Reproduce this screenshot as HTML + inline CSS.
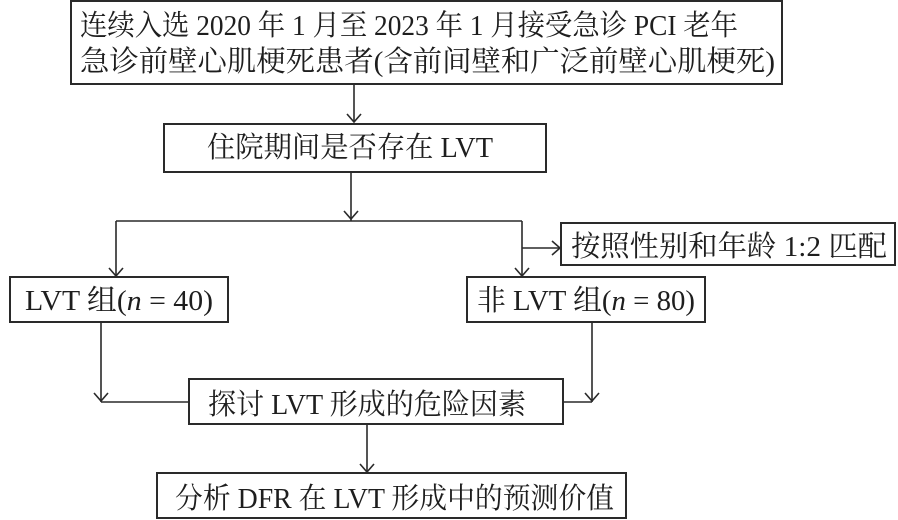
<!DOCTYPE html>
<html><head><meta charset="utf-8"><style>
html,body{margin:0;padding:0;background:#fff;}
svg{display:block;}
text{font-family:"Liberation Serif","Noto Serif CJK SC","Noto Sans CJK SC",serif;font-size:29px;fill:#1e1e1e;}
</style></head><body>
<svg width="898" height="520" viewBox="0 0 898 520" xmlns="http://www.w3.org/2000/svg">
<g fill="none" stroke="#2a2a2a" stroke-width="2">
<rect x="71" y="1" width="711" height="83"/>
<rect x="164" y="124" width="382" height="48"/>
<rect x="561" y="223" width="334" height="42"/>
<rect x="10" y="277" width="218" height="45"/>
<rect x="467" y="277" width="238" height="45"/>
<rect x="189" y="379" width="374" height="45"/>
<rect x="157" y="473" width="469" height="45"/>
</g>
<g fill="none" stroke="#2a2a2a" stroke-width="1.6">
<line x1="354" y1="84" x2="354" y2="122"/>
<polyline points="347,114 354,122 361,114"/>
<line x1="351" y1="172" x2="351" y2="221"/>
<polyline points="344,211 351,219 358,211"/>
<line x1="116" y1="221" x2="522" y2="221"/>
<line x1="116" y1="221" x2="116" y2="276"/>
<polyline points="109,268 116,276 123,268"/>
<line x1="522" y1="221" x2="522" y2="276"/>
<polyline points="515,268 522,276 529,268"/>
<line x1="522" y1="248" x2="560" y2="248"/>
<polyline points="552,241 560,248 552,255"/>
<line x1="101" y1="322" x2="101" y2="402"/>
<polyline points="94,393 101,401 108,393"/>
<line x1="101" y1="402" x2="189" y2="402"/>
<line x1="592" y1="322" x2="592" y2="402"/>
<polyline points="585,393 592,401 599,393"/>
<line x1="563" y1="402" x2="592" y2="402"/>
<line x1="367" y1="424" x2="367" y2="472"/>
<polyline points="360,464 367,472 374,464"/>
</g>
<text x="80" y="35" textLength="658" lengthAdjust="spacingAndGlyphs">连续入选 2020 年 1 月至 2023 年 1 月接受急诊 PCI 老年</text>
<text x="80" y="71" textLength="695" lengthAdjust="spacingAndGlyphs">急诊前壁心肌梗死患者(含前间壁和广泛前壁心肌梗死)</text>
<text x="207" y="157" textLength="286" lengthAdjust="spacingAndGlyphs">住院期间是否存在 LVT</text>
<text x="571" y="256" textLength="316" lengthAdjust="spacingAndGlyphs">按照性别和年龄 1:2 匹配</text>
<text x="25" y="310" textLength="188" lengthAdjust="spacingAndGlyphs">LVT 组(<tspan font-style="italic">n</tspan> = 40)</text>
<text x="477" y="310" textLength="218" lengthAdjust="spacingAndGlyphs">非 LVT 组(<tspan font-style="italic">n</tspan> = 80)</text>
<text x="208" y="414" textLength="318" lengthAdjust="spacingAndGlyphs">探讨 LVT 形成的危险因素</text>
<text x="175" y="508" textLength="439" lengthAdjust="spacingAndGlyphs">分析 DFR 在 LVT 形成中的预测价值</text>
</svg>
</body></html>
